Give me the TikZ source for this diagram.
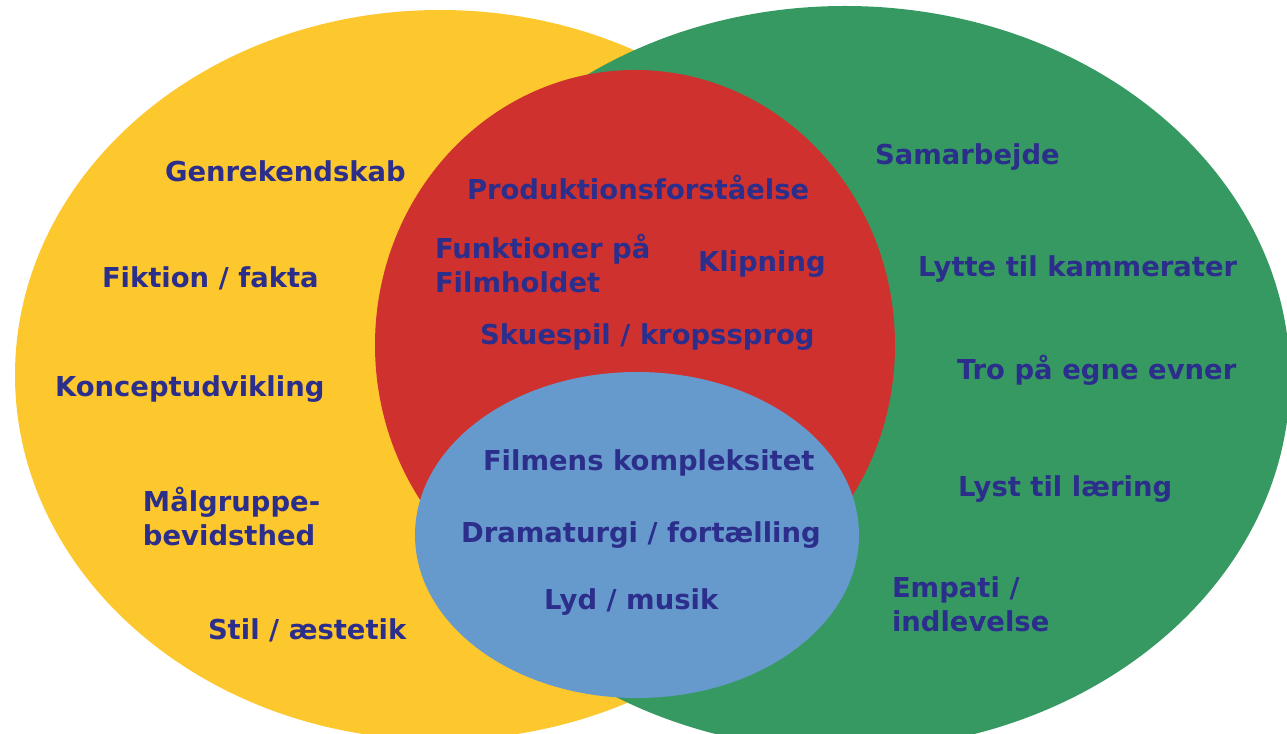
\documentclass[tikz,border=0pt]{standalone}
\usepackage{fontspec}
\setmainfont{DejaVu Sans}
\definecolor{gul}{RGB}{253,200,46}
\definecolor{groen}{RGB}{54,153,98}
\definecolor{roed}{RGB}{207,49,47}
\definecolor{blaa}{RGB}{102,153,204}
\definecolor{skrift}{RGB}{44,46,140}
\begin{document}
\begin{tikzpicture}[x=0.01cm,y=-0.01cm]
  \tikzstyle{felt}=[draw=none]
  \tikzstyle{ord}=[anchor=base west, inner sep=0pt, outer sep=0pt, align=left,
    text=skrift, font=\fontsize{7.8pt}{9.7pt}\selectfont\bfseries]
  \useasboundingbox (0,0) rectangle (1287,734);
  \clip (0,0) rectangle (1287,734);
  % de fire felter
  \fill [felt,gul]   (440,375) ellipse [x radius=425, y radius=365];
  \fill [felt,groen] (845,378) ellipse [x radius=445, y radius=372];
  \fill [felt,roed]  (635,345) ellipse [x radius=260, y radius=275];
  \fill [felt,blaa]  (637,535) ellipse [x radius=222, y radius=163];
  % gul
  \node [ord] (G1) at (165,182) {Genrekendskab};
  \node [ord] (G2) at (102,288) {Fiktion / fakta};
  \node [ord] (G3) at (55,397)  {Konceptudvikling};
  \node [ord] (G4) at (143,546) {Målgruppe-\\bevidsthed};
  \node [ord] (G5) at (208,640) {Stil / æstetik};
  % roed
  \node [ord] (R1) at (467,200) {Produktionsforståelse};
  \node [ord] (R2) at (435,293) {Funktioner på\\Filmholdet};
  \node [ord] (R3) at (698,272) {Klipning};
  \node [ord] (R4) at (480,345) {Skuespil / kropssprog};
  % blaa
  \node [ord] (B1) at (483,471) {Filmens kompleksitet};
  \node [ord] (B2) at (461,543) {Dramaturgi / fortælling};
  \node [ord] (B3) at (544,610) {Lyd / musik};
  % groen
  \node [ord] (N1) at (875,165) {Samarbejde};
  \node [ord] (N2) at (918,277) {Lytte til kammerater};
  \node [ord] (N3) at (957,380) {Tro på egne evner};
  \node [ord] (N4) at (958,497) {Lyst til læring};
  \node [ord] (N5) at (892,632) {Empati /\\indlevelse};
\end{tikzpicture}
\end{document}
